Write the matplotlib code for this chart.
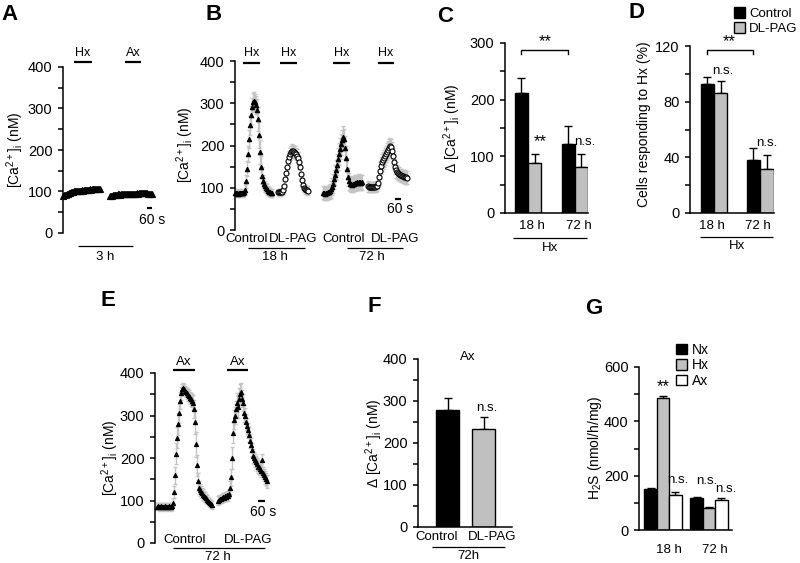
import numpy as np
import matplotlib
matplotlib.use('Agg')
import matplotlib.pyplot as plt
from matplotlib.patches import Patch

plt.rcParams['font.family'] = ['Liberation Sans', 'DejaVu Sans']
plt.rcParams['mathtext.fontset'] = 'custom'
plt.rcParams['mathtext.rm'] = 'Liberation Sans'
plt.rcParams['mathtext.it'] = 'Liberation Sans:italic'
plt.rcParams['mathtext.bf'] = 'Liberation Sans:bold'

# ---------------- data ----------------
# A: [Ca2+]i (nM), one sample every 10 s
a_hx = [90, 91, 92, 92, 94, 95, 96, 97, 98, 98,
        99, 100, 100, 100, 101, 101, 102, 101, 102, 103,
        102, 103, 103, 104, 103, 104, 104, 105, 104, 105,
        105, 106, 105, 106, 106, 107, 106, 107]
a_ax = [88, 89, 90, 91, 91, 92, 92, 92, 93, 93,
        92, 93, 93, 94, 93, 94, 94, 93, 94, 94,
        95, 94, 95, 95, 94, 95, 95, 96, 95, 96,
        96, 97, 96, 97, 97, 96, 97, 96, 95, 94,
        94, 93, 93]

# B: Hx responses
b_ctl18 = [88, 87, 88, 86, 87, 88, 87, 88, 87, 89,
           95, 115, 145, 180, 215, 248, 272, 290, 302, 306,
           302, 296, 285, 262, 225, 185, 150, 128,
           115, 108, 103, 99, 96, 93, 91, 89, 88, 88]
b_ctl18_err = [8, 8, 8, 8, 8, 8, 8, 8, 8, 8,
               12, 15, 18, 20, 22, 22, 22, 22, 22, 20,
               20, 22, 25, 28, 30, 28, 25, 20,
               15, 14, 13, 12, 12, 11, 10, 10, 10, 10]
b_pag18 = [90, 89, 90, 89, 91, 95, 105, 120, 135, 150,
           163, 172, 180, 185, 188, 187, 185, 183, 180, 176,
           170, 160, 148, 133, 118, 106, 99, 96, 95, 94, 93]
b_pag18_err = [8, 8, 8, 8, 8, 9, 10, 12, 13, 14,
               15, 15, 15, 15, 15, 15, 15, 15, 15, 15,
               15, 15, 15, 14, 13, 12, 10, 10, 10, 10, 10]
b_ctl72 = [88, 87, 86, 88, 87, 89, 90, 92, 96, 102,
           110, 120, 130, 142, 155, 168, 180, 192, 203, 212,
           220, 215, 195, 170, 145, 125, 115, 110, 108, 107,
           108, 110, 112, 111, 113, 112, 114, 113, 112, 113]
b_ctl72_err = [15, 15, 15, 15, 15, 15, 16, 18, 20, 20,
               22, 22, 24, 24, 25, 25, 25, 25, 25, 25,
               25, 25, 28, 28, 25, 22, 20, 18, 18, 18,
               18, 18, 18, 18, 18, 18, 18, 18, 18, 18]
b_pag72 = [103, 102, 101, 102, 101, 102, 101, 102, 103, 105,
           112, 125, 140, 152, 160, 165, 170, 175, 180, 185,
           190, 195, 198, 196, 188, 175, 162, 150, 142, 137,
           134, 132, 130, 129, 128, 127, 126, 125, 125, 124]
b_pag72_err = [12, 12, 12, 12, 12, 12, 12, 12, 12, 12,
               15, 18, 20, 20, 20, 20, 20, 20, 20, 20,
               20, 20, 20, 20, 20, 20, 18, 18, 18, 16,
               16, 16, 15, 15, 15, 15, 15, 15, 15, 15]

# C: delta [Ca2+]i to Hx
times = ['18 h', '72 h']
c_ctl = [212, 122]
c_ctl_err = [27, 31]
c_pag = [89, 81]
c_pag_err = [16, 24]

# D: cells responding to Hx (%)
d_ctl = [92.5, 38]
d_ctl_err = [5, 9]
d_pag = [86.5, 31.5]
d_pag_err = [8, 10]

# E: Ax responses, 72 h
e_ctl = [85, 86, 85, 84, 86, 85, 84, 85, 86, 85, 84, 85, 86, 85, 84, 86,
         95, 120, 160, 210, 248, 280, 305, 335, 352, 362,
         365, 362, 358, 355, 352, 348, 345, 342, 338, 335, 330,
         315, 285, 232, 183, 145,
         130, 125, 120, 117, 114, 111, 108, 105, 102, 99, 96, 94, 92, 90]
e_ctl_err = [8, 8, 8, 8, 8, 8, 8, 8, 8, 8, 8, 8, 8, 8, 8, 8,
             10, 15, 20, 25, 25, 25, 22, 20, 15, 12,
             12, 12, 12, 12, 12, 14, 14, 14, 15, 16, 18,
             22, 28, 30, 25, 20,
             15, 14, 13, 12, 12, 11, 11, 10, 10, 10, 10, 10, 10, 10]
e_pag = [100, 102, 104, 103, 105, 108, 106, 110, 108, 112, 110, 115,
         130, 155, 200, 260, 290,
         300, 315, 330, 320, 340, 350, 355,
         340, 330, 305, 300, 285, 275, 265, 255, 240, 230, 220, 205,
         200, 195, 190, 185, 180, 178, 175, 170, 195, 165, 160, 155, 150, 145]
e_pag_err = [10, 10, 10, 10, 10, 10, 10, 10, 10, 10, 10, 10,
             15, 20, 25, 25, 22,
             20, 20, 22, 25, 25, 25, 22,
             20, 20, 20, 18, 18, 18, 18, 18, 16, 16, 16, 16,
             15, 15, 15, 15, 15, 15, 15, 15, 15, 15, 15, 15, 15, 15]

# F: delta [Ca2+]i to Ax, 72h
f_groups = ['Control', 'DL-PAG']
f_vals = [279, 233]
f_err = [29, 28]

# G: H2S production
g_nx = [150, 117]
g_nx_err = [5, 5]
g_hx = [487, 81]
g_hx_err = [8, 4]
g_ax = [130, 111]
g_ax_err = [10, 8]

# ---------------- figure ----------------
W, H = 800, 563
fig = plt.figure(figsize=(8, 5.63), dpi=100)
BLACK = 'k'
GREY = '#c0c0c0'
ERRGREY = '#c4c4c4'


def add_ax(x0, y0, x1, y1):
    # pixel box, top-left origin
    return fig.add_axes([x0 / W, 1 - y1 / H, (x1 - x0) / W, (y1 - y0) / H])


def ftext(x, y, s, **kw):
    kw.setdefault('ha', 'center')
    kw.setdefault('va', 'center')
    fig.text(x / W, 1 - y / H, s, **kw)


def style(ax, ymax, major, bottom=False):
    ax.set_ylim(0, ymax)
    ax.set_yticks(np.arange(0, ymax + 1, major))
    ax.set_yticks(np.arange(major / 2, ymax, major), minor=True)
    for s in ['top', 'right']:
        ax.spines[s].set_visible(False)
    ax.spines['bottom'].set_visible(bottom)
    for s in ['left', 'bottom']:
        ax.spines[s].set_linewidth(1.1)
    ax.tick_params(axis='y', which='both', length=3.5, width=1.1,
                   labelsize=10.5, pad=4)
    ax.tick_params(axis='x', length=0)
    ax.set_xticks([])
    ax.patch.set_alpha(0)


def hline(ax, x0, x1, y, lw=1.1):
    ax.plot([x0, x1], [y, y], color=BLACK, lw=lw, clip_on=False,
            solid_capstyle='butt')


def trace(ax, start, vals, err=None, marker='^', filled=True, ms=3.2):
    t = start + np.arange(len(vals))
    if err is not None:
        ax.errorbar(t, vals, yerr=err, fmt='none', ecolor=ERRGREY,
                    elinewidth=1, capsize=1.5, capthick=1, zorder=1)
    ax.plot(t, vals, ls='none', marker=marker, ms=ms,
            color=BLACK, mfc=BLACK if filled else 'white', mew=0.8,
            zorder=2, clip_on=False)


def bar_err(ax, x, vals, err, color, width):
    ax.bar(x, vals, width, color=color, edgecolor=BLACK, lw=1, zorder=2)
    ax.errorbar(x, vals, yerr=[np.zeros(len(err)), err], fmt='none',
                ecolor=BLACK, elinewidth=1, capsize=3, capthick=1, zorder=1)


ylab_ca = '[Ca$^{2+}$]$_{\\rm i}$ (nM)'
ylab_dca = '\u0394 [Ca$^{2+}$]$_{\\rm i}$ (nM)'

# ---- A ----
ax = add_ax(63, 67, 160, 233)
style(ax, 400, 100)
ax.set_xlim(0, 97)
trace(ax, 0, a_hx, ms=5)
trace(ax, 47, a_ax, ms=5)
hline(ax, 11, 29, 412, lw=1.6)
hline(ax, 62, 78, 412, lw=1.6)
ax.text(20, 434, 'Hx', ha='center', va='center', fontsize=9)
ax.text(70, 434, 'Ax', ha='center', va='center', fontsize=9)
hline(ax, 84, 89, 60, lw=1.6)
ax.text(89, 31, '60 s', ha='center', va='center', fontsize=10)
hline(ax, 15, 70, -31, lw=0.9)
ax.text(42, -58, '3 h', ha='center', va='center', fontsize=9.5)
ftext(15, 150, ylab_ca, rotation=90, fontsize=10)

# ---- B ----
ax = add_ax(235, 61, 410, 230)
style(ax, 400, 100)
ax.set_xlim(0, 175)
trace(ax, 0, b_ctl18, b_ctl18_err)
trace(ax, 43, b_pag18, b_pag18_err, marker='o', filled=False, ms=3.6)
trace(ax, 88, b_ctl72, b_ctl72_err)
trace(ax, 133, b_pag72, b_pag72_err, marker='o', filled=False, ms=3.6)
for x0, x1 in [(8, 25), (45, 62), (98, 115), (143, 159)]:
    hline(ax, x0, x1, 395, lw=1.6)
    ax.text((x0 + x1) / 2, 419, 'Hx', ha='center', va='center', fontsize=9)
hline(ax, 160, 166, 73, lw=1.6)
ax.text(165, 50, '60 s', ha='center', va='center', fontsize=10)
for x, s in [(12, 'Control'), (58, 'DL-PAG'), (109, 'Control'), (160, 'DL-PAG')]:
    ax.text(x, -21, s, ha='center', va='center', fontsize=9.5)
hline(ax, 13, 70, -43, lw=0.9)
hline(ax, 112, 168, -43, lw=0.9)
ax.text(40, -64, '18 h', ha='center', va='center', fontsize=9.5)
ax.text(137, -64, '72 h', ha='center', va='center', fontsize=9.5)
ftext(185, 145, ylab_ca, rotation=90, fontsize=10)

# ---- C ----
ax = add_ax(505, 43, 588, 213)
style(ax, 300, 100, bottom=True)
w = 0.28
g = np.arange(len(times))
ax.set_xlim(-0.49, 1.28)
bar_err(ax, g - w / 2, c_ctl, c_ctl_err, BLACK, w)
bar_err(ax, g + w / 2, c_pag, c_pag_err, GREY, w)
ax.plot([-w / 2, -w / 2, 1 - w / 2, 1 - w / 2], [280, 288, 288, 280],
        color=BLACK, lw=1, clip_on=False)
ax.text(0.36, 290, '**', ha='center', va='bottom', fontsize=12)
ax.text(0.26, c_pag[0] + c_pag_err[0] + 7, '**', ha='center', va='bottom', fontsize=12)
ax.text(1.21, c_pag[1] + c_pag_err[1] + 10, 'n.s.', ha='center', va='bottom', fontsize=9.5)
ax.set_xticks(g + 0.08)
ax.set_xticklabels(times, fontsize=9.5)
ax.tick_params(axis='x', pad=5)
hline(ax, -0.32, 1.26, -44, lw=0.9)
ax.text(0.47, -62, 'Hx', ha='center', va='center', fontsize=9.5)
ftext(452, 128, ylab_dca, rotation=90, fontsize=10)

# ---- D ----
ax = add_ax(690, 46, 774, 213)
style(ax, 120, 40, bottom=True)
w = 0.29
ax.set_xlim(-0.52, 1.30)
bar_err(ax, g - w / 2, d_ctl, d_ctl_err, BLACK, w)
bar_err(ax, g + w / 2, d_pag, d_pag_err, GREY, w)
ax.plot([-w / 2, -w / 2, 1 - w / 2, 1 - w / 2], [114, 117, 117, 114],
        color=BLACK, lw=1, clip_on=False)
ax.text(0.33, 117.5, '**', ha='center', va='bottom', fontsize=12)
ax.text(0.2, 98, 'n.s.', ha='center', va='bottom', fontsize=9.5)
ax.text(1.15, 46, 'n.s.', ha='center', va='bottom', fontsize=9.5)
ax.set_xticks(g - 0.04)
ax.set_xticklabels(times, fontsize=9.5)
ax.tick_params(axis='x', pad=5)
hline(ax, -0.31, 1.28, -17.5, lw=0.9)
ax.text(0.5, -24, 'Hx', ha='center', va='center', fontsize=9.5)
ax.legend(handles=[Patch(fc=BLACK, ec=BLACK, lw=1, label='Control'),
                   Patch(fc=GREY, ec=BLACK, lw=1, label='DL-PAG')],
          loc='upper left', bbox_to_anchor=(734 / W, 1 - 7 / H),
          bbox_transform=fig.transFigure, frameon=False, fontsize=9.5,
          handlelength=0.85, handleheight=0.85, handletextpad=0.3,
          labelspacing=0.2, borderpad=0, borderaxespad=0)
ftext(644, 124, 'Cells responding to Hx (%)', rotation=90, fontsize=10)

# ---- E ----
ax = add_ax(155, 373, 272, 543)
style(ax, 400, 100)
ax.set_xlim(0, 117)
trace(ax, 2, e_ctl, e_ctl_err, ms=3)
trace(ax, 63, e_pag, e_pag_err, ms=3)
for x0, x1 in [(18, 40), (72, 93)]:
    hline(ax, x0, x1, 407, lw=1.6)
    ax.text((x0 + x1) / 2, 426, 'Ax', ha='center', va='center', fontsize=9.5)
hline(ax, 103, 110, 99, lw=1.6)
ax.text(108, 73, '60 s', ha='center', va='center', fontsize=10)
ax.text(30, 7, 'Control', ha='center', va='center', fontsize=9.5)
ax.text(93, 7, 'DL-PAG', ha='center', va='center', fontsize=9.5)
hline(ax, 18, 110, -12, lw=0.9)
ax.text(63, -33, '72 h', ha='center', va='center', fontsize=9.5)
ftext(110, 458, ylab_ca, rotation=90, fontsize=10)

# ---- F ----
ax = add_ax(418, 359, 512, 527)
style(ax, 400, 100, bottom=True)
fx = np.arange(len(f_groups))
ax.set_xlim(-0.82, 1.79)
ax.bar(fx, f_vals, 0.64, color=[BLACK, GREY], edgecolor=BLACK, lw=1, zorder=2)
ax.errorbar(fx, f_vals, yerr=[np.zeros(len(f_err)), f_err], fmt='none',
            ecolor=BLACK, elinewidth=1, capsize=3, capthick=1, zorder=1)
ax.text(0.57, 405, 'Ax', ha='center', va='center', fontsize=9.5)
ax.text(1.1, f_vals[1] + f_err[1] + 8, 'n.s.', ha='center', va='bottom', fontsize=9.5)
ax.set_xticks([-0.29, 1.23])
ax.set_xticklabels(f_groups, fontsize=9.5)
ax.tick_params(axis='x', pad=3)
hline(ax, -0.43, 1.6, -48, lw=0.9)
ax.text(0.57, -69, '72h', ha='center', va='center', fontsize=9.5)
ftext(374, 443, ylab_dca, rotation=90, fontsize=10)

# ---- G ----
ax = add_ax(639, 367, 732, 530)
style(ax, 600, 200, bottom=True)
w = 0.27
ax.set_xlim(-0.52, 1.5)
bar_err(ax, g - w, g_nx, g_nx_err, BLACK, w)
bar_err(ax, g, g_hx, g_hx_err, GREY, w)
bar_err(ax, g + w, g_ax, g_ax_err, 'white', w)
ax.text(0, g_hx[0] + g_hx_err[0] + 6, '**', ha='center', va='bottom', fontsize=12)
ax.text(w + 0.05, g_ax[0] + g_ax_err[0] + 22, 'n.s.', ha='center', va='bottom', fontsize=9.5)
ax.text(1 - 0.05, 160, 'n.s.', ha='center', va='bottom', fontsize=9.5)
ax.text(1 + w + 0.1, g_ax[1] + g_ax_err[1] + 8, 'n.s.', ha='center', va='bottom', fontsize=9.5)
ax.set_xticks(g + 0.13)
ax.set_xticklabels(times, fontsize=9.5)
ax.tick_params(axis='x', pad=10)
ax.legend(handles=[Patch(fc=BLACK, ec=BLACK, lw=1, label='Nx'),
                   Patch(fc=GREY, ec=BLACK, lw=1, label='Hx'),
                   Patch(fc='white', ec=BLACK, lw=1, label='Ax')],
          loc='upper left', bbox_to_anchor=(676 / W, 1 - 343 / H),
          bbox_transform=fig.transFigure, frameon=False, fontsize=10,
          handlelength=0.8, handleheight=0.8, handletextpad=0.35,
          labelspacing=0.1, borderpad=0, borderaxespad=0)
ftext(595, 448, 'H$_2$S (nmol/h/mg)', rotation=90, fontsize=10)

# ---- panel letters ----
for x, y, s in [(10, 15, 'A'), (214, 15, 'B'), (445, 16, 'C'), (636, 13, 'D'),
                (108, 301, 'E'), (374, 306, 'F'), (594, 309, 'G')]:
    ftext(x, y, s, fontsize=16, fontweight='bold')

fig.savefig('out.png', dpi=100)
